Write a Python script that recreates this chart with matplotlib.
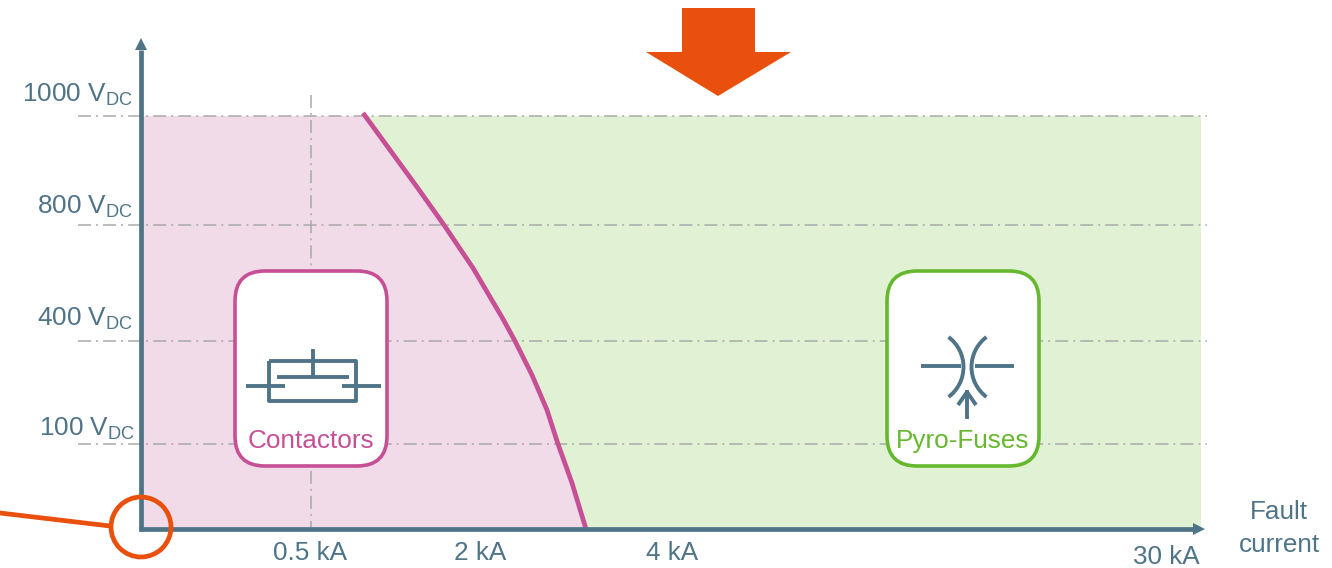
import matplotlib
matplotlib.use("Agg")
import matplotlib.pyplot as plt
from matplotlib.patches import FancyBboxPatch, Circle, Polygon, Arc

# values, axes run in image pixels
volt_labels = ["1000", "800", "400", "100"]
volt_y = [116, 225, 341, 444]
volt_label_right = [133, 133, 133, 135]
volt_label_base = [101, 213, 325, 436]
current_labels = ["0.5 kA", "2 kA", "4 kA", "30 kA"]
current_x = [310, 480, 672, 1166]
current_y = [553, 553, 553, 557]
curve_x = [363, 390, 417, 444, 473, 503, 515, 532, 547, 558, 572, 586]
curve_y = [113, 150, 187, 225, 268, 319, 341, 375, 410, 444, 483, 529]

axis_color = "#4f7488"
pink = "#c64f96"
pink_fill = "#f1dbe9"
green = "#66b82f"
green_fill = "#e0f2d3"
orange = "#e9500e"
grid_color = "#a9a9a9"
x0, y0 = 141, 529
x_end, y_top = 1201, 116
fs = 18.8

plt.rcParams["font.family"] = ["Liberation Sans", "DejaVu Sans"]
plt.rcParams["mathtext.fontset"] = "custom"
plt.rcParams["mathtext.rm"] = "Liberation Sans"

fig = plt.figure(figsize=(13.32, 5.68), dpi=100)
ax = fig.add_axes([0, 0, 1, 1])
ax.set_xlim(0, 1332)
ax.set_ylim(568, 0)
ax.axis("off")

# filled regions either side of the curve
ax.fill_between([x0, x_end], y_top, y0, color=green_fill, lw=0, zorder=1)
ax.fill(
    [x0] + curve_x + [x0],
    [y_top] + [max(y, y_top) for y in curve_y] + [y0],
    color=pink_fill, lw=0, zorder=1,
)

# dash-dot grid
dash = (0, (8.5, 3.3, 1.3, 3.3))
for y in volt_y:
    ax.plot([78, 1207], [y, y], color=grid_color, lw=1.1, ls=dash, zorder=2)
ax.plot([311, 311], [95, y0], color=grid_color, lw=1.1, ls=dash, zorder=2)

ax.plot(curve_x, curve_y, color=pink, lw=3.4, zorder=3, solid_capstyle="butt", solid_joinstyle="round")

# axes with arrow heads
ax.plot([x0, x0], [y0 + 2, 50], color=axis_color, lw=3.4, zorder=4, solid_capstyle="butt")
ax.plot([x0 - 2, 1195], [y0, y0], color=axis_color, lw=3.4, zorder=4, solid_capstyle="butt")
ax.add_patch(Polygon([[x0 - 6, 50], [x0 + 6, 50], [x0, 38]], color=axis_color, lw=0, zorder=4))
ax.add_patch(Polygon([[1193, y0 - 6], [1193, y0 + 6], [1205, y0]], color=axis_color, lw=0, zorder=4))

# voltage and current labels
for lab, y, r in zip(volt_labels, volt_label_base, volt_label_right):
    ax.text(r, y, lab + r" V$_{\mathrm{DC}}$", color=axis_color, fontsize=fs, ha="right", va="baseline")
for lab, x, y in zip(current_labels, current_x, current_y):
    ax.text(x, y, lab, color=axis_color, fontsize=fs, ha="center", va="center")
ax.text(1279, 512, "Fault", color=axis_color, fontsize=fs, ha="center", va="center")
ax.text(1279, 545, "current", color=axis_color, fontsize=fs, ha="center", va="center")

# white rounded boxes
for left, col, name in [(235, pink, "Contactors"), (887, green, "Pyro-Fuses")]:
    ax.add_patch(FancyBboxPatch((left + 30, 271 + 30), 152 - 60, 195 - 60,
                                boxstyle="round,pad=30,rounding_size=30",
                                fc="white", ec=col, lw=2.6, zorder=5))
    ax.text(left + 76, 441, name, color=col, fontsize=fs, ha="center", va="center", zorder=6)

# contactor symbol
lw_sym = 2.8
sym = dict(color=axis_color, lw=lw_sym, zorder=6, solid_capstyle="butt")
ax.plot([269, 356, 356, 269, 269], [361, 361, 401, 401, 361], **sym)
ax.plot([313, 313], [349, 377], **sym)
ax.plot([277, 349], [377, 377], **sym)
ax.plot([246, 285], [386, 386], **sym)
ax.plot([342, 381], [386, 386], **sym)

# pyro-fuse symbol
ax.plot([921, 961], [366, 366], **sym)
ax.plot([975, 1014], [366, 366], **sym)
for cx, t1, t2 in [(926, -53, 53), (1009, 127, 233)]:
    ax.add_patch(Arc((cx, 367), 75, 75, theta1=t1, theta2=t2, color=axis_color, lw=lw_sym, zorder=6))
ax.plot([967, 967], [419, 390], **sym)
ax.plot([958, 967, 976], [405, 392, 405], **sym)

# orange callouts
ax.plot([0, 110], [513, 526], color=orange, lw=3.4, zorder=7)
ax.add_patch(Circle((141, 527), 30, fc="none", ec=orange, lw=3.4, zorder=7))
ax.add_patch(Polygon([[682, 8], [755, 8], [755, 52], [791, 52], [718, 96], [646, 52], [682, 52]],
                     color=orange, lw=0, zorder=7))

fig.savefig("out.png", dpi=100)
